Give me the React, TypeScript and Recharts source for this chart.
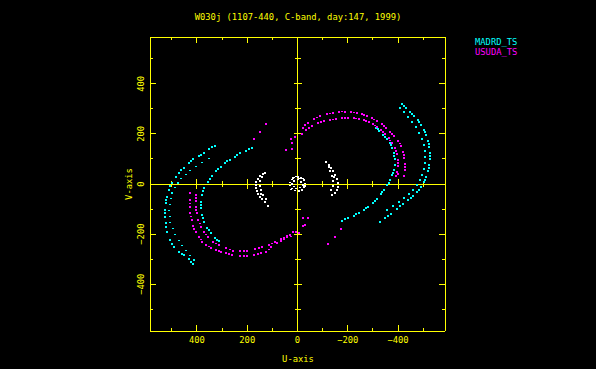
import React from "react";
import { ScatterChart, Scatter, XAxis, YAxis, ReferenceLine } from "recharts";

// ---- labels ----
const titleText = "W030j (1107-440, C-band, day:147, 1999)";
const seriesNames = ["MADRD_TS", "USUDA_TS"];
const xAxisTitle = "U-axis";
const yAxisTitle = "V-axis";
const majorTicks = [-400, -200, 0, 200, 400];
const allTicks = [-500, -400, -300, -200, -100, 0, 100, 200, 300, 400, 500];
const axisDomain = [-587, 587];

// ---- MADRD_TS (cyan) tracks, [u, v] ----
const madrdOuterR: number[][] = [
  [-416, 320], [-432, 304], [-448, 288], [-464, 272], [-480, 256], [-492, 236], [-504, 216],
  [-512, 196], [-520, 172], [-524, 148], [-528, 124], [-528, 100], [-524, 76], [-520, 52],
  [-512, 28], [-504, 8], [-492, -12], [-476, -32], [-460, -48], [-440, -64], [-420, -80],
  [-396, -100], [-372, -120], [-348, -136], [-328, -152],
  [-424, 312], [-456, 280], [-484, 248], [-508, 208], [-524, 160], [-528, 112], [-524, 64],
  [-508, 16], [-484, -24], [-452, -56], [-408, -88], [-360, -128],
];
const madrdOuterR2: number[][] = [
  [-408, 304], [-424, 288], [-440, 268], [-456, 248], [-472, 228], [-484, 204], [-496, 180],
  [-504, 156], [-508, 132], [-508, 108], [-508, 84], [-504, 60], [-496, 36], [-488, 16],
  [-476, -4], [-460, -24], [-444, -40], [-424, -56], [-404, -72], [-380, -88], [-356, -104],
];
const madrdInnerR: number[][] = [
  [-312, 224], [-324, 212], [-340, 196], [-356, 180], [-368, 164], [-376, 144], [-384, 124],
  [-388, 100], [-388, 76], [-384, 56], [-376, 36], [-368, 16], [-356, -4], [-344, -24],
  [-332, -40], [-316, -60], [-300, -76], [-280, -92], [-264, -104], [-244, -116], [-224, -128],
  [-200, -136], [-176, -148],
  [-320, 220], [-348, 188], [-372, 156], [-384, 112], [-380, 44], [-364, 4], [-336, -32],
  [-308, -68], [-272, -96], [-232, -120], [-188, -140],
];
const madrdOuterL: number[][] = [
  [328, 152], [352, 140], [372, 124], [392, 112], [416, 100], [432, 84], [452, 64], [472, 44],
  [484, 28], [500, 4], [512, -24], [520, -52], [524, -76], [528, -104], [528, -132], [524, -156],
  [520, -192], [508, -224], [492, -252], [472, -272], [452, -284], [432, -300], [416, -320],
  [340, 148], [384, 116], [424, 92], [464, 56], [508, -8], [524, -64], [528, -116], [524, -172],
  [500, -240], [460, -280], [424, -312],
];
const madrdOuterL2: number[][] = [
  [412, -304], [426, -286], [442, -266], [458, -246], [470, -226], [486, -202], [494, -178],
  [506, -154], [508, -130], [510, -106], [506, -82], [502, -58], [498, -36], [486, -14],
  [474, 4], [462, 22], [442, 38], [426, 54], [402, 70], [382, 86], [354, 102],
];
const madrdInnerL: number[][] = [
  [180, 144], [204, 132], [228, 124], [248, 108], [268, 96], [288, 84], [304, 68], [324, 52],
  [340, 32], [356, 8], [372, -16], [380, -44], [384, -72], [384, -96], [380, -124], [372, -152],
  [360, -176], [344, -196], [328, -216], [312, -228],
  [192, 140], [240, 116], [280, 92], [316, 60], [348, 20], [376, -28], [384, -84], [376, -136],
  [352, -184], [320, -224],
];

// ---- USUDA_TS (magenta) tracks, [u, v] ----
const usudaOuterR: number[][] = [
  [-20, 224], [-40, 244], [-64, 260], [-88, 272], [-116, 280], [-140, 284], [-164, 288],
  [-188, 288], [-212, 288], [-236, 284], [-256, 280], [-276, 272], [-296, 264], [-316, 252],
  [-336, 240], [-352, 224], [-368, 208], [-384, 192], [-400, 172], [-412, 152], [-420, 128],
  [-424, 104], [-428, 80], [-428, 56], [-424, 32],
  [-28, 236], [-76, 266], [-128, 282], [-176, 290], [-224, 286], [-266, 276], [-306, 258],
  [-344, 232], [-376, 200], [-406, 162], [-422, 116], [-428, 68],
];
const usudaInnerR: number[][] = [
  [-16, 200], [-32, 216], [-56, 232], [-80, 244], [-104, 252], [-128, 256], [-152, 260],
  [-176, 264], [-200, 264], [-224, 264], [-244, 260], [-264, 256], [-284, 248], [-300, 240],
  [-316, 228], [-332, 216], [-348, 200], [-364, 184], [-376, 164], [-388, 144], [-396, 120],
  [-400, 96], [-400, 72], [-396, 48], [-392, 32],
  [-44, 224], [-92, 248], [-140, 258], [-188, 264], [-234, 262], [-274, 252], [-308, 234],
  [-340, 208], [-370, 174], [-392, 132], [-400, 84], [-398, 40],
];
const usudaOuterL: number[][] = [
  [428, -36], [428, -64], [428, -92], [428, -116], [420, -144], [416, -168], [404, -192],
  [392, -212], [380, -232], [364, -244], [344, -256], [324, -264], [304, -272], [284, -276],
  [260, -284], [228, -288], [200, -288], [172, -284], [144, -276], [124, -272], [104, -252],
  [80, -236], [52, -220], [28, -204], [4, -192],
  [428, -78], [424, -130], [410, -180], [386, -222], [354, -250], [314, -268], [272, -280],
  [214, -288], [158, -280], [114, -262], [66, -228], [40, -212],
];
const usudaInnerL: number[][] = [
  [404, -44], [404, -68], [404, -92], [400, -116], [396, -144], [384, -172], [372, -192],
  [356, -212], [336, -232], [312, -244], [284, -256], [256, -268], [228, -268], [200, -268],
  [168, -260], [140, -252], [112, -244], [88, -232], [64, -220], [40, -208], [16, -192],
  [404, -56], [402, -104], [390, -158], [364, -202], [324, -238], [270, -262], [214, -268],
  [154, -256], [100, -238], [52, -214],
];
const usudaSparse: number[][] = [
  [124, 240], [148, 208], [172, 180], [44, 136], [20, 140], [20, 164], [24, 180], [8, 188],
  [-172, -180], [-148, -212], [-120, -240], [-20, -136], [-40, -136], [-20, -168], [-28, -164],
  [-4, -196], [24, -210],
];

// ---- short baselines (white), [u, v] ----
const whiteLeft: number[][] = [
  [136, 40], [148, 32], [156, 20], [164, 8], [164, -4], [164, -16], [160, -28], [156, -40],
  [148, -52], [140, -60], [128, -72], [116, -88], [128, 44], [140, 28], [148, 12], [148, -8],
  [144, -24], [136, -44], [124, -60], [144, -40],
];
const whiteRight: number[][] = [
  [-112, 88], [-124, 76], [-132, 64], [-140, 52], [-148, 36], [-156, 20], [-160, 4],
  [-160, -12], [-156, -24], [-148, -36], [-136, -44], [-128, 52], [-136, 32], [-140, 12],
  [-140, -8], [-132, -24], [-124, 68], [-144, 28],
];
const whiteCore: number[][] = [
  [0, 28], [12, 26], [22, 18], [28, 6], [28, -6], [22, -18], [10, -26], [-4, -28], [-16, -24],
  [-26, -12], [-28, 2], [-24, 16], [-14, 24], [0, 18], [12, 12], [-10, -14], [14, -10], [-14, 8],
  [6, 30], [-20, 22], [24, -22], [-28, -8], [18, 24], [-6, 22], [20, 0], [-20, -4], [4, -18],
];

const YEL = "#ffff00";
const CYAN = "#00ffff";
const MAG = "#ff00ff";
const WHITE = "#ffffff";
const FONT = "'DejaVu Sans Mono', monospace";
const FS = 8.8;

const pts = (...arrs: number[][][]) => arrs.flat().map(([u, v]) => ({ u, v }));
const fmt = (v: number) => (v < 0 ? "\u2212" + Math.abs(v) : String(v));
const isMajor = (v: number) => majorTicks.includes(v);

const dot = (color: string) => (p: any) => (
  <rect x={p.cx - 1} y={p.cy - 0.8} width={2} height={1.6} fill={color} shapeRendering="crispEdges" />
);

const BottomTick = (p: any) => {
  const { x, y, payload } = p;
  const v = payload.value;
  const m = isMajor(v);
  return (
    <g>
      <line x1={x} x2={x} y1={y} y2={y - (m ? 6 : 3)} stroke={YEL} shapeRendering="crispEdges" />
      {m && (
        <text x={x} y={y + 12} textAnchor="middle" fill={YEL} fontSize={FS} fontFamily={FONT}>
          {fmt(v)}
        </text>
      )}
    </g>
  );
};
const TopTick = (p: any) => {
  const { x, y, payload } = p;
  const m = isMajor(payload.value);
  return <line x1={x} x2={x} y1={y} y2={y + (m ? 6 : 3)} stroke={YEL} shapeRendering="crispEdges" />;
};
const LeftTick = (p: any) => {
  const { x, y, payload } = p;
  const v = payload.value;
  const m = isMajor(v);
  const tx = x - 6;
  return (
    <g>
      <line x1={x} x2={x + (m ? 6 : 3)} y1={y} y2={y} stroke={YEL} shapeRendering="crispEdges" />
      {m && (
        <text x={tx} y={y} transform={`rotate(-90 ${tx} ${y})`} textAnchor="middle" fill={YEL} fontSize={FS} fontFamily={FONT}>
          {fmt(v)}
        </text>
      )}
    </g>
  );
};
const RightTick = (p: any) => {
  const { x, y, payload } = p;
  const m = isMajor(payload.value);
  return <line x1={x} x2={x - (m ? 6 : 3)} y1={y} y2={y} stroke={YEL} shapeRendering="crispEdges" />;
};

const vLineTicks = allTicks.map((v) => ({ u: 0, v }));
const uLineTicks = allTicks.map((u) => ({ u, v: 0 }));
const hTick = (p: any) => {
  const l = isMajor(p.payload?.v) ? 4 : 3;
  return <line x1={p.cx - l} x2={p.cx + l} y1={p.cy} y2={p.cy} stroke={YEL} shapeRendering="crispEdges" />;
};
const vTick = (p: any) => {
  const l = isMajor(p.payload?.u) ? 5 : 3;
  return <line x1={p.cx} x2={p.cx} y1={p.cy - l} y2={p.cy + l} stroke={YEL} shapeRendering="crispEdges" />;
};

const axisLine = { stroke: YEL, shapeRendering: "crispEdges" } as any;

export default function App() {
  return (
    <div style={{ position: "fixed", left: 0, top: 0, width: 596, height: 369, background: "#000" }}>
      <ScatterChart width={596} height={369} margin={{ top: 7, right: 121, bottom: 8, left: 120 }}>
        <XAxis xAxisId={0} dataKey="u" type="number" domain={axisDomain} reversed ticks={allTicks}
          allowDataOverflow height={30} tickSize={0} tickMargin={0} tickLine={false} axisLine={axisLine} tick={BottomTick} interval={0} />
        <XAxis xAxisId="top" orientation="top" dataKey="u" type="number" domain={axisDomain} reversed ticks={allTicks}
          allowDataOverflow height={30} tickSize={0} tickMargin={0} tickLine={false} axisLine={axisLine} tick={TopTick} interval={0} />
        <YAxis yAxisId={0} dataKey="v" type="number" domain={axisDomain} ticks={allTicks}
          allowDataOverflow width={30} tickSize={0} tickMargin={0} tickLine={false} axisLine={axisLine} tick={LeftTick} interval={0} />
        <YAxis yAxisId="right" orientation="right" dataKey="v" type="number" domain={axisDomain} ticks={allTicks}
          allowDataOverflow width={30} tickSize={0} tickMargin={0} tickLine={false} axisLine={axisLine} tick={RightTick} interval={0} />
        <ReferenceLine x={0} stroke={YEL} shapeRendering="crispEdges" />
        <ReferenceLine y={0} stroke={YEL} shapeRendering="crispEdges" />
        <Scatter name="vticks" data={vLineTicks} shape={hTick} isAnimationActive={false} />
        <Scatter name="uticks" data={uLineTicks} shape={vTick} isAnimationActive={false} />
        <Scatter name="short" data={pts(whiteLeft, whiteRight, whiteCore)} shape={dot(WHITE)} isAnimationActive={false} />
        <Scatter name={seriesNames[0]} data={pts(madrdOuterR, madrdOuterR2, madrdInnerR, madrdOuterL, madrdOuterL2, madrdInnerL)} shape={dot(CYAN)} isAnimationActive={false} />
        <Scatter name={seriesNames[1]} data={pts(usudaOuterR, usudaInnerR, usudaOuterL, usudaInnerL, usudaSparse)} shape={dot(MAG)} isAnimationActive={false} />
      </ScatterChart>
      <svg width={596} height={369} style={{ position: "absolute", left: 0, top: 0, pointerEvents: "none" }}>
        <text x={298} y={19.5} textAnchor="middle" fill={YEL} fontSize={FS} fontFamily={FONT}>{titleText}</text>
        <text x={475} y={44.5} fill={CYAN} fontSize={FS} fontFamily={FONT}>{seriesNames[0]}</text>
        <text x={475} y={54.5} fill={MAG} fontSize={FS} fontFamily={FONT}>{seriesNames[1]}</text>
        <text x={298} y={362} textAnchor="middle" fill={YEL} fontSize={FS} fontFamily={FONT}>{xAxisTitle}</text>
        <text x={131.5} y={184} transform="rotate(-90 131.5 184)" textAnchor="middle" fill={YEL} fontSize={FS} fontFamily={FONT}>{yAxisTitle}</text>
      </svg>
    </div>
  );
}
